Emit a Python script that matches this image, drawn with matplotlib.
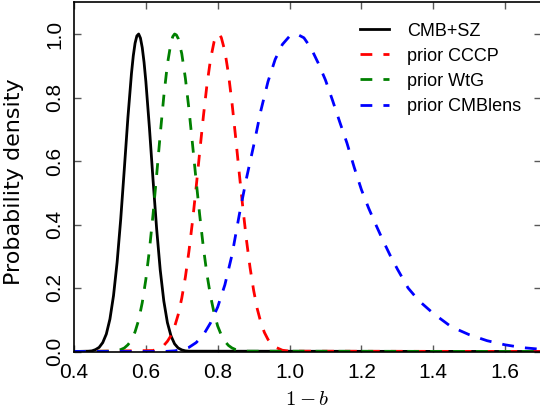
import matplotlib
matplotlib.use("Agg")
import matplotlib.pyplot as plt

# values
x_cmbsz = [0.40, 0.44, 0.45, 0.46, 0.47, 0.48, 0.49, 0.50, 0.51, 0.52, 0.53, 0.54, 0.55,
           0.56, 0.565, 0.57, 0.575, 0.58, 0.585, 0.59, 0.595, 0.60, 0.61, 0.62, 0.63, 0.64,
           0.65, 0.66, 0.67, 0.68, 0.69, 0.70, 0.71, 0.72, 1.70]
p_cmbsz = [0.0, 0.001, 0.002, 0.006, 0.013, 0.028, 0.055, 0.102, 0.176, 0.281, 0.416, 0.574,
           0.736, 0.876, 0.931, 0.971, 0.994, 1.0, 0.987, 0.957, 0.911, 0.851, 0.704,
           0.541, 0.387, 0.257, 0.159, 0.091, 0.049, 0.024, 0.011, 0.005, 0.002, 0.001, 0.0]

x_cccp = [0.40, 0.62, 0.64, 0.65, 0.66, 0.67, 0.68, 0.69, 0.70, 0.71, 0.72, 0.73, 0.74, 0.75,
          0.76, 0.77, 0.78, 0.79, 0.795, 0.80, 0.805, 0.81, 0.82, 0.83, 0.84, 0.85, 0.86,
          0.87, 0.88, 0.89, 0.90, 0.91, 0.92, 0.93, 0.94, 0.95, 0.96, 0.98, 1.00, 1.70]
p_cccp = [0.0, 0.003, 0.011, 0.019, 0.032, 0.050, 0.078, 0.116, 0.168, 0.234, 0.316, 0.411,
          0.517, 0.629, 0.739, 0.839, 0.920, 0.976, 0.992, 0.999, 0.998, 0.989, 0.946,
          0.874, 0.781, 0.674, 0.562, 0.453, 0.352, 0.265, 0.193, 0.135, 0.092, 0.060,
          0.038, 0.023, 0.014, 0.004, 0.001, 0.0]

x_wtg = [0.40, 0.50, 0.52, 0.53, 0.54, 0.55, 0.56, 0.57, 0.58, 0.59, 0.60, 0.61, 0.62, 0.63,
         0.64, 0.65, 0.66, 0.67, 0.675, 0.68, 0.685, 0.69, 0.70, 0.71, 0.72, 0.73, 0.74,
         0.75, 0.76, 0.77, 0.78, 0.79, 0.80, 0.81, 0.82, 0.83, 0.84, 0.85, 0.86, 0.88, 1.70]
p_wtg = [0.0, 0.001, 0.003, 0.006, 0.011, 0.021, 0.036, 0.062, 0.099, 0.154, 0.227, 0.320,
         0.431, 0.555, 0.684, 0.804, 0.905, 0.973, 0.992, 1.0, 0.997, 0.986, 0.938, 0.861,
         0.763, 0.652, 0.538, 0.429, 0.329, 0.244, 0.175, 0.121, 0.080, 0.052, 0.032,
         0.019, 0.011, 0.006, 0.003, 0.001, 0.0]

x_lens = [0.40, 0.65, 0.68, 0.70, 0.72, 0.74, 0.76, 0.78, 0.80, 0.82, 0.84, 0.86, 0.88, 0.90,
          0.92, 0.94, 0.96, 0.98, 1.00, 1.02, 1.04, 1.06, 1.08, 1.10, 1.12, 1.14, 1.16,
          1.18, 1.20, 1.22, 1.24, 1.26, 1.28, 1.30, 1.33, 1.36, 1.40, 1.45, 1.50, 1.55,
          1.60, 1.65, 1.70]
p_lens = [0.0, 0.0, 0.002, 0.006, 0.013, 0.028, 0.052, 0.090, 0.140, 0.210, 0.305, 0.430,
          0.545, 0.648, 0.758, 0.850, 0.920, 0.967, 0.993, 1.0, 0.988, 0.955, 0.908, 0.855,
          0.790, 0.722, 0.656, 0.580, 0.510, 0.452, 0.400, 0.350, 0.303, 0.260, 0.200,
          0.160, 0.120, 0.078, 0.053, 0.034, 0.021, 0.012, 0.007]

labels = ['CMB+SZ', 'prior CCCP', 'prior WtG', 'prior CMBlens']
colors = ['k', 'r', 'g', 'b']

plt.rcParams['mathtext.fontset'] = 'cm'
plt.rcParams['lines.scale_dashes'] = False
plt.rcParams['font.family'] = ['Liberation Sans', 'DejaVu Sans']

fig = plt.figure(figsize=(5.4, 4.13), dpi=100)
ax = fig.add_axes([74 / 540, (413 - 351.5) / 413, 467 / 540, 349.25 / 413])

series = [(x_cmbsz, p_cmbsz), (x_cccp, p_cccp), (x_wtg, p_wtg), (x_lens, p_lens)]
for i, (xs, ps) in enumerate(series):
    if i == 0:
        ax.plot(xs, ps, color=colors[i], lw=2, label=labels[i])
    else:
        ax.plot(xs, ps, color=colors[i], lw=2, dashes=(8.5, 8), label=labels[i])

ax.set_xlim(0.4, 1.7)
ax.set_ylim(0, 1.1)
ax.set_xticks([0.4, 0.6, 0.8, 1.0, 1.2, 1.4, 1.6])
ax.set_yticks([0.0, 0.2, 0.4, 0.6, 0.8, 1.0])
ax.tick_params(direction='in', length=5, width=1, color='0.35', top=True, right=True,
               labelsize=15, pad=8)
ax.tick_params(axis='y', labelrotation=90, pad=7)
for lab in ax.get_yticklabels():
    lab.set_va('center')
for sp in ax.spines.values():
    sp.set_linewidth(1.2)

ax.set_xlabel(r'$1-b$', fontsize=15, labelpad=6)
ax.set_ylabel('Probability density', fontsize=16, family=['DejaVu Sans'], labelpad=6)
ax.yaxis.set_label_coords(-0.107, 0.487)

ax.legend(loc='upper left', bbox_to_anchor=(0.612, 0.942), frameon=False, fontsize=13,
          handlelength=1.6, handletextpad=1.0, labelspacing=0.45, borderpad=0,
          borderaxespad=0)

fig.savefig('out.png', dpi=100)
